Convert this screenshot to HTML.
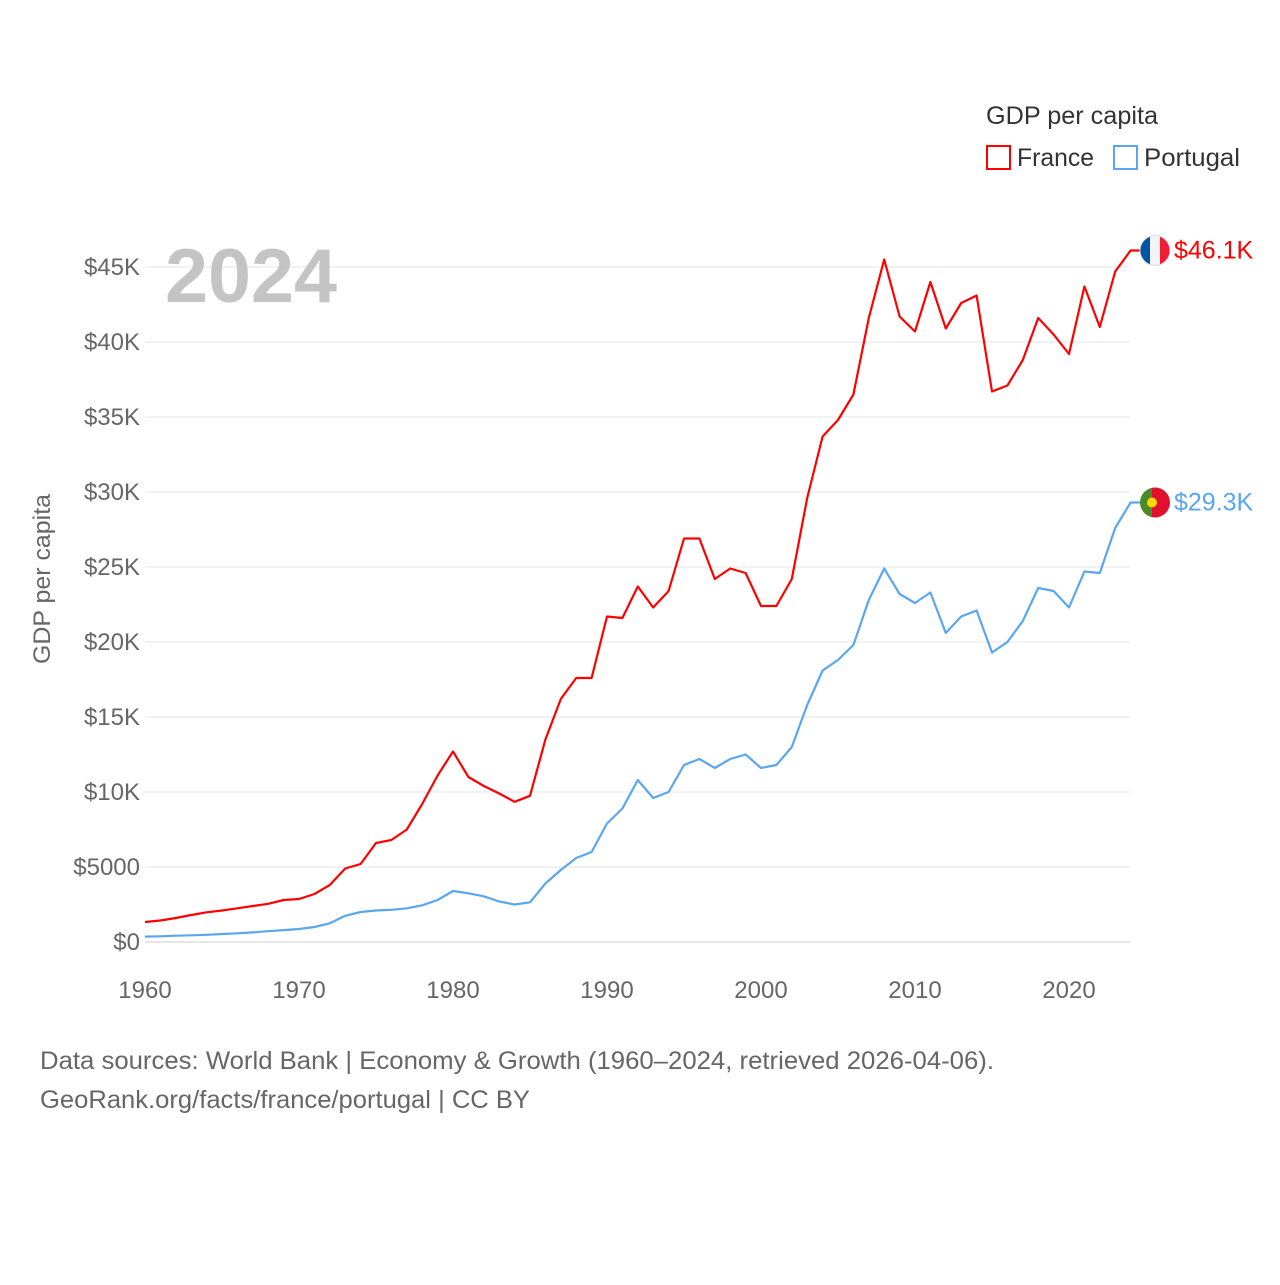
<!DOCTYPE html>
<html><head><meta charset="utf-8"><style>
body{margin:0;background:#fff;font-family:"Liberation Sans",sans-serif;}
svg text{font-family:"Liberation Sans",sans-serif;}
</style></head><body>
<svg id="chart" width="1280" height="1280" viewBox="0 0 1280 1280" xmlns="http://www.w3.org/2000/svg">
<rect width="1280" height="1280" fill="#fff"/>
<g id="grid"></g>
<g id="yticks"></g>
<g id="xticks"></g>
<text x="165" y="302" font-size="76" font-weight="bold" fill="#c4c4c4" textLength="172" lengthAdjust="spacingAndGlyphs">2024</text>
<text transform="translate(50,579) rotate(-90)" text-anchor="middle" font-size="24" fill="#666" textLength="170" lengthAdjust="spacingAndGlyphs">GDP per capita</text>
<g id="series"></g>
<g>
<text x="986" y="124" font-size="25" fill="#333" textLength="172" lengthAdjust="spacingAndGlyphs">GDP per capita</text>
<rect x="987" y="146" width="23" height="23" fill="none" stroke="#ff0000" stroke-width="2"/>
<text x="1017" y="166" font-size="25" fill="#333" textLength="77" lengthAdjust="spacingAndGlyphs">France</text>
<rect x="1114" y="146" width="23" height="23" fill="none" stroke="#5aa6f0" stroke-width="2"/>
<text x="1144" y="166" font-size="25" fill="#333" textLength="96" lengthAdjust="spacingAndGlyphs">Portugal</text>
</g>
<text x="40" y="1069" font-size="25" fill="#666" textLength="954" lengthAdjust="spacingAndGlyphs">Data sources: World Bank | Economy &amp; Growth (1960–2024, retrieved 2026-04-06).</text>
<text x="40" y="1108" font-size="25" fill="#666" textLength="490" lengthAdjust="spacingAndGlyphs">GeoRank.org/facts/france/portugal | CC BY</text>
</svg>
<script>
const years = [];
for (let y = 1960; y <= 2024; y++) years.push(y);
const france = [1.33,1.43,1.6,1.8,1.98,2.1,2.25,2.4,2.55,2.8,2.87,3.2,3.8,4.9,5.2,6.6,6.8,7.5,9.2,11.1,12.7,11.0,10.4,9.9,9.35,9.75,13.5,16.2,17.6,17.6,21.7,21.6,23.7,22.3,23.4,26.9,26.9,24.2,24.9,24.6,22.4,22.4,24.2,29.6,33.7,34.8,36.5,41.6,45.5,41.7,40.7,44.0,40.9,42.6,43.1,36.7,37.1,38.8,41.6,40.5,39.2,43.7,41.0,44.7,46.1];
const portugal = [0.36,0.38,0.42,0.45,0.48,0.53,0.58,0.64,0.72,0.79,0.87,1.0,1.25,1.75,2.0,2.1,2.15,2.25,2.45,2.8,3.4,3.25,3.05,2.7,2.5,2.65,3.9,4.8,5.6,6.0,7.9,8.9,10.8,9.6,10.0,11.8,12.2,11.6,12.2,12.5,11.6,11.8,13.0,15.8,18.1,18.8,19.8,22.8,24.9,23.2,22.6,23.3,20.6,21.7,22.1,19.3,20.0,21.4,23.6,23.4,22.3,24.7,24.6,27.6,29.3];
const yTickValues = [0,5,10,15,20,25,30,35,40,45];
const yTickLabels = ["$0","$5000","$10K","$15K","$20K","$25K","$30K","$35K","$40K","$45K"];
const xTickValues = [1960,1970,1980,1990,2000,2010,2020];
const endLabels = ["$46.1K","$29.3K"];

const NS = "http://www.w3.org/2000/svg";
const X = yr => 145 + (yr - 1960) * 15.4;
const Y = v => 942 - v * 15;
function mk(tag, attrs, parent, txt){const e=document.createElementNS(NS,tag);for(const k in attrs)e.setAttribute(k,attrs[k]);if(txt!=null)e.textContent=txt;parent.appendChild(e);return e;}
const grid=document.getElementById('grid'), yt=document.getElementById('yticks'), xt=document.getElementById('xticks'), ser=document.getElementById('series');
yTickValues.forEach((v,i)=>{
  const l=mk('line',{x1:145,x2:1130,y1:Y(v),y2:Y(v),stroke:v===0?'#ccc':'#e6e6e6','stroke-width':1},grid);
  
  
  const t=mk('text',{x:140,y:Y(v)+8,'text-anchor':'end','font-size':24,fill:'#666'},yt,yTickLabels[i]);
  
  
});
xTickValues.forEach(v=>{
  const t=mk('text',{x:X(v),y:998,'text-anchor':'middle','font-size':24,fill:'#666'},xt,String(v));
  
  
});
function drawLine(vals,color,name){
  let d='';vals.forEach((v,i)=>{d+=(i?'L':'M')+X(years[i]).toFixed(1)+' '+Y(v).toFixed(1);});
  const last=vals[vals.length-1];
  d+='L'+(X(years[years.length-1])+10).toFixed(1)+' '+Y(last).toFixed(1);
  const p=mk('path',{d:d,fill:'none',stroke:color,'stroke-width':2.2,'stroke-linejoin':'round'},ser);
  
  
}
drawLine(france,'#ff0000','france');
drawLine(portugal,'#5aa6f0','portugal');
const fy=Y(france[france.length-1]), py=Y(portugal[portugal.length-1]), fx=1155;
const defs=mk('defs',{},ser);
const cp=mk('clipPath',{id:'cf'},defs);mk('circle',{cx:fx,cy:fy,r:15},cp);
const cp2=mk('clipPath',{id:'cpo'},defs);mk('circle',{cx:fx,cy:py,r:15},cp2);
const ff=mk('g',{'clip-path':'url(#cf)'},ser);


mk('rect',{x:fx-15,y:fy-15,width:10,height:30,fill:'#0055a4'},ff);
mk('rect',{x:fx-5,y:fy-15,width:10,height:30,fill:'#f4f4f4'},ff);
mk('rect',{x:fx+5,y:fy-15,width:10,height:30,fill:'#ef1c35'},ff);
const fo=mk('circle',{cx:fx,cy:fy,r:15,fill:'none',stroke:'#ddd','stroke-width':1},ser);


const pf=mk('g',{'clip-path':'url(#cpo)'},ser);


mk('rect',{x:fx-15,y:py-15,width:12,height:30,fill:'#4a8a2a'},pf);
mk('rect',{x:fx-3,y:py-15,width:18,height:30,fill:'#e0102e'},pf);
mk('circle',{cx:fx-3,cy:py,r:5,fill:'#ffd700'},pf);
const t1=mk('text',{x:1174,y:fy+8,'font-size':25,fill:'#ff0000'},ser,endLabels[0]);


const t2=mk('text',{x:1174,y:py+8,'font-size':25,fill:'#5aa6f0'},ser,endLabels[1]);


</script>
</body></html>
